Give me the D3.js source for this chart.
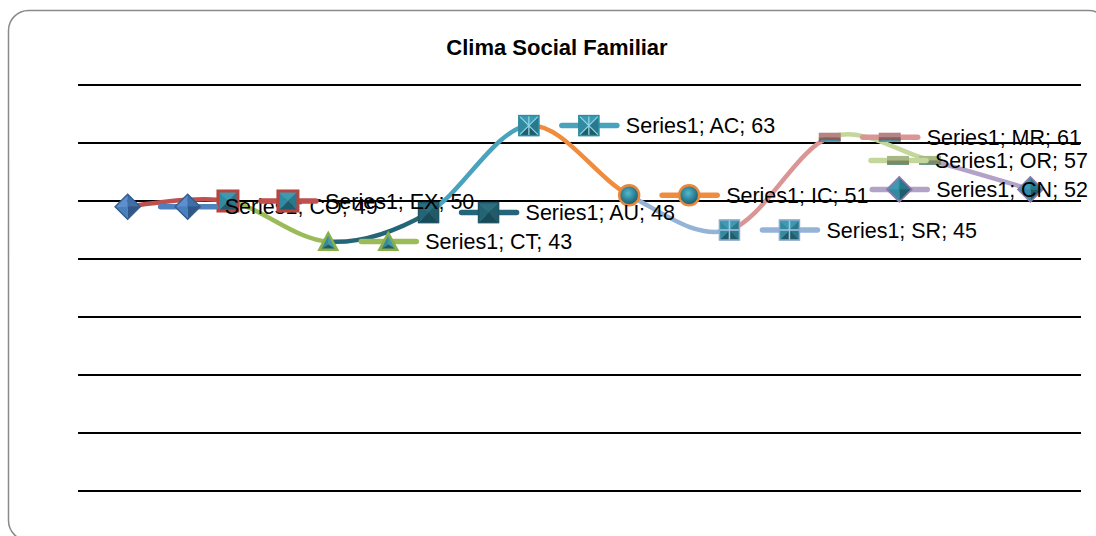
<!DOCTYPE html>
<html lang="es">
<head>
<meta charset="UTF-8">
<title>Clima Social Familiar</title>
<style>
  body { margin: 0; background: #fff; }
  .grid line { stroke: #000; stroke-width: 2; shape-rendering: crispEdges; }
  .title { font-family: "Liberation Sans", Arial, sans-serif; font-weight: bold; font-size: 22px; text-anchor: middle; }
  .lbl { font-family: "Liberation Sans", Arial, sans-serif; font-size: 21.5px; fill: #000; }
</style>
</head>
<body>
<script src="https://d3js.org/d3.v7.min.js"></script>
<script>
var width = 1096, height = 536;
var seriesName = "Series1";
var categories = ["CO", "EX", "CT", "AU", "AC", "IC", "SR", "MR", "OR", "CN"];
var values = [49, 50, 43, 48, 63, 51, 45, 61, 57, 52];
var yTicks = [0, 10, 20, 30, 40, 50, 60, 70];

// colour of each point (Excel "vary colours by point")
var pointColors = ["#4F81BD", "#C0504D", "#9BBB59", "#25657A", "#4AA3BD", "#F08C3E", "#95B3D7", "#D99694", "#C3D69B", "#B3A2C7"];
var markerShapes = ["diamond", "square", "triangle", "square", "star", "circle", "plus", "dash", "dash", "diamond"];
var markerBorders = ["#385D8A", "#B8433F", "#8AAF4A", "#1F5565", "#2E8CA3", "#E9883A", "#8FAAD0", "#A87472", "#9FB57A", "#8E78AE"];

var teal = { top: "#3C9BB2", right: "#2A788B", bottom: "#1E5C6B", left: "#318A9F" };
var tealDark = { top: "#2B6E80", right: "#215B6A", bottom: "#184A57", left: "#246474" };
var blue = { top: "#5B8FD0", right: "#3F6FA8", bottom: "#2F5788", left: "#4A7FBE" };

var padding = { left: 77.5, right: 15.5, top: 85, bottom: 45 };

var svg = d3.select("body").append("svg").attr("width", width).attr("height", height);
var defs = svg.append("defs");

// outer frame
svg.append("rect")
  .attr("x", 8.5).attr("y", 10.5).attr("width", 1100).attr("height", 530)
  .attr("rx", 20).attr("ry", 20)
  .attr("fill", "#fff").attr("stroke", "#8a8a8a").attr("stroke-width", 1.5);

svg.append("text").attr("class", "title").attr("x", 557).attr("y", 55).text("Clima Social Familiar");

var xScale = d3.scalePoint()
  .domain(categories)
  .range([padding.left, width - padding.right])
  .padding(0.5);

var yScale = d3.scaleLinear()
  .domain([0, 70])
  .range([height - padding.bottom, padding.top]);

// horizontal gridlines
svg.append("g").attr("class", "grid")
  .selectAll("line").data(yTicks).enter().append("line")
  .attr("x1", padding.left).attr("x2", width - padding.right)
  .attr("y1", function (d) { return Math.round(yScale(d)); })
  .attr("y2", function (d) { return Math.round(yScale(d)); });

var pts = categories.map(function (c, i) { return [xScale(c), yScale(values[i])]; });

var line = d3.line().curve(d3.curveCatmullRom.alpha(0));
var fullPath = line(pts);

// one clipped copy of the smooth line per segment, coloured by the end point
var segs = svg.append("g");
for (var i = 1; i < pts.length; i++) {
  defs.append("clipPath").attr("id", "seg" + i)
    .append("rect")
    .attr("x", pts[i - 1][0]).attr("y", 0)
    .attr("width", pts[i][0] - pts[i - 1][0]).attr("height", height);
  segs.append("path")
    .attr("d", fullPath)
    .attr("fill", "none")
    .attr("stroke", pointColors[i])
    .attr("stroke-width", 4.5)
    .attr("clip-path", "url(#seg" + i + ")");
}

// radial gradient for the circle marker
var rg = defs.append("radialGradient").attr("id", "ballGrad").attr("cx", "45%").attr("cy", "40%").attr("r", "60%");
rg.append("stop").attr("offset", "0%").attr("stop-color", "#58B8CF");
rg.append("stop").attr("offset", "60%").attr("stop-color", "#2A7F93");
rg.append("stop").attr("offset", "100%").attr("stop-color", "#1B5261");

function facets(g, poly, shades) {
  // poly: outer vertices clockwise starting top-left; centre at 0,0
  var keys = ["top", "right", "bottom", "left"];
  for (var k = 0; k < poly.length; k++) {
    var a = poly[k], b = poly[(k + 1) % poly.length];
    g.append("path")
      .attr("d", "M" + a + "L" + b + "L0,0Z")
      .attr("fill", shades[keys[k % 4]])
      .attr("stroke", shades[keys[k % 4]]).attr("stroke-width", 0.5);
  }
}

function drawMarker(parent, i, cx, cy) {
  var g = parent.append("g").attr("transform", "translate(" + cx + "," + cy + ")");
  var shape = markerShapes[i], border = markerBorders[i];
  var h;
  if (shape === "diamond") {
    h = 12.5;
    var dp = [[0, -h], [h, 0], [0, h], [-h, 0]];
    facets(g, [[-h, 0], [0, -h], [h, 0], [0, h]], i === 0 ? blue : teal);
    g.append("path").attr("d", "M" + dp.join("L") + "Z").attr("fill", "none")
      .attr("stroke", border).attr("stroke-width", 1.5);
  } else if (shape === "square" || shape === "star" || shape === "plus") {
    h = 10;
    var sq = [[-h, -h], [h, -h], [h, h], [-h, h]];
    facets(g, sq, i === 3 ? tealDark : teal);
    if (shape === "star") {
      g.append("path").attr("d", "M" + (-h) + "," + (-h) + "L" + h + "," + h + "M" + h + "," + (-h) + "L" + (-h) + "," + h + "M0," + (-h) + "L0," + h)
        .attr("stroke", "#8ED3E3").attr("stroke-width", 1.3);
    }
    if (shape === "plus") {
      g.append("path").attr("d", "M0," + (-h) + "L0," + h + "M" + (-h) + ",0L" + h + ",0")
        .attr("stroke", "#A9C2E2").attr("stroke-width", 1.5);
    }
    g.append("rect").attr("x", -h).attr("y", -h).attr("width", 2 * h).attr("height", 2 * h)
      .attr("fill", "none").attr("stroke", border).attr("stroke-width", i === 1 ? 3 : 1.5);
  } else if (shape === "triangle") {
    h = 11;
    var tp = [[0, -h], [h, h * 0.85], [-h, h * 0.85]];
    g.append("path").attr("d", "M" + tp.join("L") + "Z").attr("fill", border);
    var ti = [[0, -h + 5], [h - 4.5, h * 0.85 - 2.5], [-h + 4.5, h * 0.85 - 2.5]];
    var c = [0, (ti[0][1] + ti[1][1] + ti[2][1]) / 3];
    g.append("path").attr("d", "M" + ti[0] + "L" + ti[1] + "L" + c + "Z").attr("fill", teal.top);
    g.append("path").attr("d", "M" + ti[1] + "L" + ti[2] + "L" + c + "Z").attr("fill", teal.bottom);
    g.append("path").attr("d", "M" + ti[2] + "L" + ti[0] + "L" + c + "Z").attr("fill", teal.left);
  } else if (shape === "circle") {
    g.append("circle").attr("r", 10).attr("fill", "url(#ballGrad)")
      .attr("stroke", border).attr("stroke-width", 2.5);
  } else if (shape === "dash") {
    var topC = i === 7 ? "#B58583" : "#A7B884";
    var botC = i === 7 ? "#8C5C5A" : "#7C8A5E";
    g.append("rect").attr("x", -11).attr("y", -4.5).attr("width", 22).attr("height", 4.5).attr("fill", topC);
    g.append("rect").attr("x", -11).attr("y", 0).attr("width", 22).attr("height", 4.5).attr("fill", botC);
    g.append("line").attr("x1", -9).attr("x2", 9).attr("y1", 3.5).attr("y2", 3.5)
      .attr("stroke", "#3C9BB2").attr("stroke-width", 1);
  }
}

var markers = svg.append("g");
pts.forEach(function (p, i) { drawMarker(markers, i, p[0], p[1]); });

// data labels: legend key + "Series1; CAT; value", shifted left if past the chart edge
var labels = svg.append("g");
var rightLimit = 1088;
pts.forEach(function (p, i) {
  var g = labels.append("g");
  var txt = g.append("text").attr("class", "lbl")
    .attr("x", p[0] + 97).attr("y", p[1]).attr("dy", "0.35em")
    .text(seriesName + "; " + categories[i] + "; " + values[i]);
  g.insert("line", "text")
    .attr("x1", p[0] + 33).attr("x2", p[0] + 88)
    .attr("y1", p[1]).attr("y2", p[1])
    .attr("stroke", pointColors[i]).attr("stroke-width", 5.5).attr("stroke-linecap", "round");
  var kg = g.insert("g", "text");
  drawMarker(kg, i, p[0] + 60, p[1]);
  var tw = txt.node().getComputedTextLength();
  var over = p[0] + 97 + tw - rightLimit;
  if (over > 0) g.attr("transform", "translate(" + (-over) + ",0)");
});
</script>
</body>
</html>
